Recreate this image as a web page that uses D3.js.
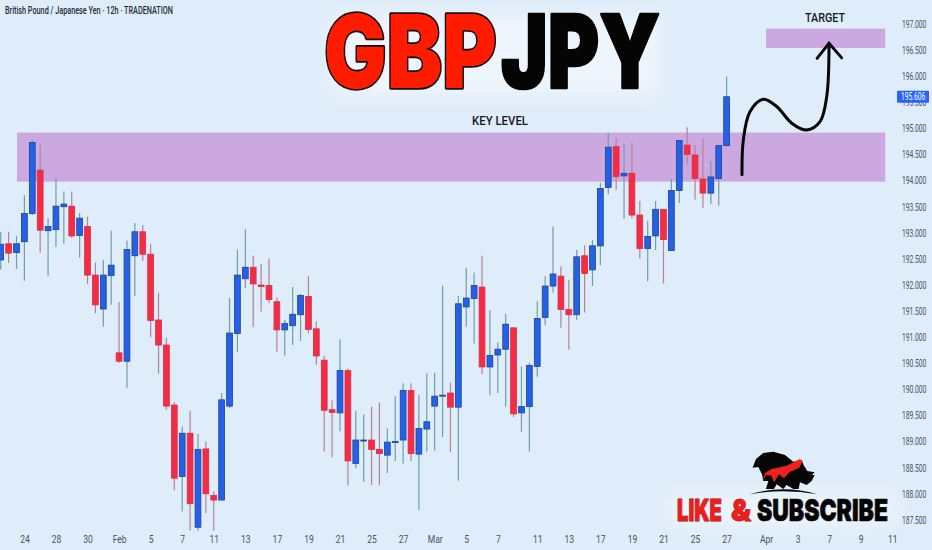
<!DOCTYPE html>
<html><head><meta charset="utf-8">
<script src="https://cdn.jsdelivr.net/npm/d3@7/dist/d3.min.js"></script>
<style>
html,body{margin:0;padding:0;background:#dfecf9}
svg{display:block}
text{font-family:"Roboto",sans-serif}
.axis path,.axis line{display:none}
.axis text{font-family:"Roboto",sans-serif;font-size:10.5px;fill:#46536a}
</style></head><body>
<script>
const open=[192.48,192.79,192.62,192.83,193.37,194.20,193.04,193.06,193.50,193.51,192.95,193.12,192.19,191.54,192.18,190.70,190.54,192.56,193.02,192.59,191.33,190.85,189.70,188.33,189.16,187.36,188.86,187.97,187.88,189.68,191.07,192.12,192.34,192.00,191.99,191.68,191.14,191.22,191.43,191.78,191.16,190.56,189.61,189.55,190.36,188.58,189.02,189.03,188.85,188.74,188.99,189.03,189.98,188.76,189.24,189.68,189.88,189.93,189.66,191.58,191.74,191.96,190.43,190.66,190.77,191.18,189.55,189.67,190.44,191.38,191.98,192.17,191.53,191.43,192.56,192.29,192.75,193.87,194.65,194.09,194.14,193.34,192.70,192.94,193.45,192.66,193.81,194.68,194.49,194.03,193.76,194.04,194.67];
const close=[192.78,192.61,192.79,193.37,194.73,193.05,193.12,193.51,193.55,192.94,193.28,192.19,191.62,192.19,192.38,190.54,192.68,193.02,192.59,191.32,190.85,189.68,188.30,189.16,187.81,188.85,188.00,187.88,189.80,191.08,192.19,192.34,192.02,191.97,191.72,191.14,191.26,191.44,191.80,191.15,190.64,189.60,189.56,190.36,188.63,189.03,189.03,188.85,188.77,188.99,189.00,189.98,188.77,189.25,189.38,189.87,189.89,189.66,191.64,191.75,191.99,190.43,190.65,190.77,191.25,189.53,189.67,190.46,191.36,191.98,192.21,191.53,191.43,192.54,192.22,192.75,193.85,194.64,194.08,194.14,193.34,192.70,192.93,193.45,192.87,193.81,194.77,194.50,194.04,193.76,194.07,194.67,195.606];
const high=[193.02,193.02,192.94,193.72,194.78,194.68,193.28,194.05,193.79,193.79,193.38,193.31,192.43,192.48,193.04,191.67,192.85,193.19,193.15,192.78,191.85,190.99,189.76,189.29,189.59,189.15,189.00,188.05,189.93,191.75,192.68,193.07,192.56,192.40,192.51,191.76,191.33,191.96,191.83,192.17,191.30,190.64,189.79,190.96,190.40,189.59,189.52,189.67,189.75,189.25,189.87,190.12,190.12,189.89,190.31,190.32,191.99,190.13,191.79,192.33,192.24,192.56,191.52,190.90,191.45,191.18,190.44,190.51,191.69,192.17,193.12,192.36,192.10,192.67,192.76,192.86,193.96,194.91,194.81,194.70,194.73,193.61,193.23,193.61,193.45,194.04,194.77,195.02,194.68,194.81,194.38,194.67,195.99];
const low=[192.29,192.42,192.31,192.08,193.34,192.62,192.17,192.73,192.79,192.90,192.52,192.02,191.46,191.20,191.62,190.51,190.03,191.79,192.46,191.00,190.30,189.61,188.07,187.66,187.29,187.29,187.63,187.29,187.88,189.64,190.72,191.94,191.19,191.49,191.65,190.72,190.65,190.85,190.93,191.07,190.47,188.81,188.70,189.20,188.16,188.49,188.23,188.17,188.16,188.40,188.63,188.58,188.63,187.69,188.81,188.83,189.09,188.80,188.25,191.20,190.88,190.29,189.89,189.93,189.67,189.47,189.19,188.81,190.24,191.23,191.85,191.18,190.76,191.33,191.47,191.98,192.38,193.74,193.82,193.27,193.28,192.51,192.07,192.67,192.03,192.66,193.57,194.32,193.64,193.48,193.55,193.52,194.65];

const priceTicks=[187.5,188,188.5,189,189.5,190,190.5,191,191.5,192,192.5,193,193.5,194,194.5,195,195.5,196,196.5,197];
const dateTickIndex=[3,7,11,15,19,23,27,31,35,39,43,47,51,55,59,63,68,72,76,80,84,88,92,97,101,105,109,113];
const dateTickLabels=["24","28","30","Feb","5","7","11","13","17","19","21","25","27","Mar","5","7","11","13","17","19","21","25","27","Apr","3","7","9","11"];
const keyZone=[193.98,194.92];
const keyZoneIdx=[2.06,112.1];
const targetZone=[196.54,196.91];
const targetZoneIdx=[97,112.1];
const lastPrice=195.606;
const arrowIdx=[93.95,94.12,94.96,96.65,98.35,100.25,102.15,103.84,104.69,104.98];
const arrowPrice=[194.11,194.78,195.32,195.56,195.42,195.10,194.97,195.13,195.61,196.63];
const headIdx=[103.46,104.98,106.59];
const headPrice=[196.34,196.63,196.35];

const W=932,H=550;
const x=d3.scaleLinear().domain([0,113]).range([0.73,892.3]);
const y=d3.scaleLinear().domain([197,187.5]).range([24,519.9]);
const svg=d3.select("body").append("svg").attr("width",W).attr("height",H);
svg.append("rect").attr("width",W).attr("height",H).attr("fill","#dfecf9");

const defs=svg.append("defs");
defs.append("filter").attr("id","glow").attr("x","-20%").attr("y","-40%").attr("width","140%").attr("height","180%")
  .append("feGaussianBlur").attr("stdDeviation",9);
svg.append("rect").attr("x",330).attr("y",15).attr("width",330).attr("height",80).attr("fill","#eef5fc").attr("filter","url(#glow)");
svg.append("rect").attr("x",670).attr("y",495).attr("width",225).attr("height",30).attr("fill","#eef5fc").attr("filter","url(#glow)");

// zones
const zones=[{p:keyZone,i:keyZoneIdx},{p:targetZone,i:targetZoneIdx}];
svg.selectAll("rect.zone").data(zones).join("rect").attr("class","zone")
  .attr("x",d=>x(d.i[0])).attr("width",d=>x(d.i[1])-x(d.i[0]))
  .attr("y",d=>y(d.p[1])).attr("height",d=>y(d.p[0])-y(d.p[1]))
  .attr("fill","#cba9e0");

// candles
const idx=d3.range(open.length);
const isUp=i=>close[i]>=open[i];
const g=svg.append("g");
g.selectAll("line").data(idx).join("line")
  .attr("x1",i=>x(i)).attr("x2",i=>x(i)).attr("y1",i=>y(high[i])).attr("y2",i=>y(low[i]))
  .attr("stroke",i=>isUp(i)?"#6f9fa8":"#b5829b").attr("stroke-width",1.2);
g.selectAll("rect").data(idx).join("rect")
  .attr("x",i=>x(i)-2.9).attr("width",5.8)
  .attr("y",i=>y(Math.max(open[i],close[i])))
  .attr("height",i=>Math.max(1,Math.abs(y(open[i])-y(close[i]))))
  .attr("fill",i=>isUp(i)?"#2561e6":"#f42d47")
  .attr("stroke",i=>isUp(i)?"#1c4299":"#e22a44").attr("stroke-width",0.8);

// axes
const yAxis=d3.axisRight(y).tickValues(priceTicks).tickFormat(d3.format(".3f")).tickSize(0).tickPadding(0);
const yg=svg.append("g").attr("class","axis").attr("transform","translate(902,0)").call(yAxis);
yg.selectAll("text").attr("x",0).attr("transform","scale(0.64,1)");
const xAxis=d3.axisBottom(x).tickValues(dateTickIndex).tickFormat((d,i)=>dateTickLabels[i]).tickSize(0).tickPadding(0);
const xg=svg.append("g").attr("class","axis").attr("transform","translate(0,536)").call(xAxis);
xg.selectAll("text").style("font-size","10px").attr("transform","scale(0.85,1)");

// last price tag
const tag=svg.append("g").attr("transform",`translate(901,${y(lastPrice)})`);
tag.append("rect").attr("x",-4).attr("y",-6).attr("width",32).attr("height",12).attr("rx",1).attr("fill","#2962ff");
tag.append("text").attr("dy","0.35em").attr("transform","scale(0.64,1)")
  .attr("fill","#fff").style("font-size","10.5px").text(lastPrice.toFixed(3));

// arrow
svg.append("path").datum(arrowIdx.map((v,i)=>[v,arrowPrice[i]]))
  .attr("d",d3.line().x(d=>x(d[0])).y(d=>y(d[1])).curve(d3.curveCatmullRom.alpha(0.5))).attr("fill","none").attr("stroke","#050505").attr("stroke-width",3).attr("stroke-linecap","round");
svg.append("path").datum(headIdx.map((v,i)=>[v,headPrice[i]]))
  .attr("d",d3.line().x(d=>x(d[0])).y(d=>y(d[1]))).attr("fill","none").attr("stroke","#050505").attr("stroke-width",2.8).attr("stroke-linecap","round");

// text
const t=(s,xx,yy,size,fill,opt={})=>{const e=svg.append("text").attr("x",xx).attr("y",yy).attr("fill",fill).style("font-size",size+"px").style("font-family",opt.font||"Roboto").style("font-weight",opt.weight||400).attr("text-anchor",opt.anchor||"start").text(s);
 if(opt.len){e.attr("textLength",opt.len).attr("lengthAdjust","spacingAndGlyphs");}
 if(opt.stroke){e.attr("stroke",opt.stroke).attr("stroke-width",opt.sw).attr("stroke-linejoin","round").style("paint-order","stroke fill");}
 return e;};
t("British Pound / Japanese Yen · 12h · TRADENATION",5,14,10,"#1f2a3a",{weight:500,len:168});
t("GBP",324,87.5,102,"#ff1c00",{font:"Inter",weight:900,len:173,stroke:"#160400",sw:3.4});
t("JPY",501,87.5,102,"#050505",{font:"Inter",weight:900,len:159,stroke:"#050505",sw:2.6});
t("KEY LEVEL",472,125,12,"#14181f",{weight:500,len:56});
t("TARGET",805,22,13,"#14181f",{weight:500,len:40});
t("LIKE",677,521,30,"#ee1c1c",{font:"Inter",weight:900,len:45,stroke:"#7a0c0c",sw:0.8});
t("&",731,521,30,"#ee1c1c",{font:"Inter",weight:900,len:20,stroke:"#7a0c0c",sw:0.8});
t("SUBSCRIBE",757,521,30,"#050505",{font:"Inter",weight:900,len:131,stroke:"#050505",sw:0.6});

// bull logo
const logo=svg.append("g").attr("transform","translate(630,445) scale(0.3333)");
logo.append("path").attr("fill","#070707").attr("d","M368,68 L378,42 L400,24 L430,20 L465,30 L490,50 L515,45 L522,62 L532,78 L554,82 L546,90 L554,90 L545,108 L530,120 L510,112 L506,132 L490,132 L470,120 L460,132 L440,118 L432,132 L408,132 L415,108 L400,108 L396,88 L385,66 Z");
logo.append("path").attr("fill","#f0201c").attr("d","M397,108 L405,84 L425,72 L470,62 L510,42 L518,48 L508,68 L478,82 L462,100 L447,88 L432,112 L425,92 L408,90 Z");
logo.append("path").attr("fill","#070707").attr("d","M358,148 Q460,118 562,148 Q460,130 358,148 Z");
</script>
</body></html>
